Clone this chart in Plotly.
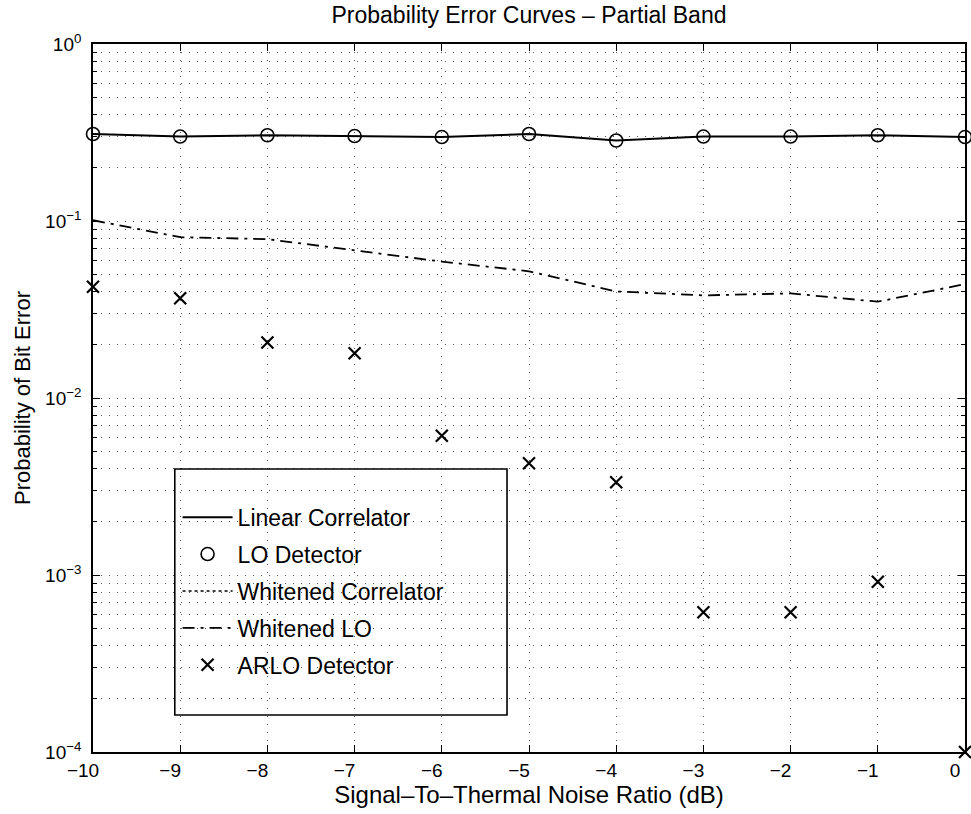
import plotly.graph_objects as go

# Signal-to-thermal noise ratio (dB)
snr_db = [-10, -9, -8, -7, -6, -5, -4, -3, -2, -1, 0]

# Probability of bit error for each detector
linear_correlator = [0.31, 0.30, 0.305, 0.302, 0.298, 0.31, 0.285, 0.30, 0.30, 0.305, 0.298]
lo_detector = [0.31, 0.30, 0.305, 0.302, 0.298, 0.31, 0.285, 0.30, 0.30, 0.305, 0.298]
whitened_lo = [0.101, 0.081, 0.079, 0.068, 0.059, 0.052, 0.040, 0.038, 0.039, 0.035, 0.044]
arlo_detector = [0.0425, 0.0366, 0.0206, 0.0179, 0.00612, 0.00428, 0.00334,
                 0.000616, 0.000616, 0.000917, 0.0001]

x_ticks = [-10, -9, -8, -7, -6, -5, -4, -3, -2, -1, 0]
x_tick_text = ["−10", "−9", "−8", "−7", "−6", "−5", "−4", "−3", "−2", "−1", "0"]
y_ticks = [1e-4, 1e-3, 1e-2, 1e-1, 1]
y_tick_text = ["10<sup>−4</sup>", "10<sup>−3</sup>", "10<sup>−2</sup>", "10<sup>−1</sup>", "10<sup>0</sup>"]
decades = [1e-4, 1e-3, 1e-2, 1e-1]
y_minor = [m * d for d in decades for m in range(2, 10)]

FONT = "Liberation Sans, Arial, Helvetica, sans-serif"
GRID = "#555555"
GRID_DASH = "1px,7px"

fig = go.Figure()

fig.add_trace(go.Scatter(
    x=snr_db, y=linear_correlator, mode="lines", name="Linear Correlator",
    line=dict(color="black", width=2), legendgroup="a"))
fig.add_trace(go.Scatter(
    x=snr_db, y=lo_detector, mode="markers", name="LO Detector",
    marker=dict(symbol="circle-open", size=13, color="black", line=dict(width=1.6)),
    legendgroup="b", cliponaxis=False))
fig.add_trace(go.Scatter(
    x=[None], y=[None], mode="lines", name="Whitened Correlator",
    line=dict(color="black", width=1.6, dash="dot"), legendgroup="c"))
fig.add_trace(go.Scatter(
    x=snr_db, y=whitened_lo, mode="lines", name="Whitened LO",
    line=dict(color="black", width=1.8, dash="12px,6px,3px,6px"), legendgroup="d"))
fig.add_trace(go.Scatter(
    x=snr_db, y=arlo_detector, mode="markers", name="ARLO Detector",
    marker=dict(symbol="x-thin-open", size=12, color="black", line=dict(width=2.2, color="black")),
    legendgroup="e", cliponaxis=False))

# legend frame
fig.add_shape(type="rect", xref="paper", yref="paper",
              x0=0.0938, x1=0.4748, y0=0.0523, y1=0.3997,
              line=dict(color="black", width=1.6), fillcolor="rgba(0,0,0,0)")

fig.update_layout(
    width=971, height=814,
    margin=dict(l=93, r=4, t=44, b=62),
    paper_bgcolor="white", plot_bgcolor="white",
    font=dict(family=FONT, size=22, color="black"),
    showlegend=True,
    title=dict(text="Probability Error Curves – Partial Band", x=0.5, xref="paper",
               y=0.991, yref="container", yanchor="top",
               font=dict(family=FONT, size=23, color="black")),
    legend=dict(x=0.097, y=0.362, xanchor="left", yanchor="top",
                bgcolor="rgba(0,0,0,0)", borderwidth=0,
                font=dict(family=FONT, size=23, color="black"),
                tracegroupgap=4, itemwidth=50,
                traceorder="grouped"),
)

fig.update_xaxes(
    range=[-10, 0], tickmode="array", tickvals=x_ticks, ticktext=x_tick_text,
    showline=True, linecolor="black", linewidth=1.6, mirror="ticks",
    ticks="inside", ticklen=7, tickcolor="black", tickwidth=1.3,
    showgrid=True, gridcolor=GRID, griddash=GRID_DASH, gridwidth=1,
    zeroline=False, tickfont=dict(size=19), ticklabelshift=-10,
    title=dict(text="Signal–To–Thermal Noise Ratio (dB)", standoff=3, font=dict(size=24)),
)

fig.update_yaxes(
    type="log", range=[-4, 0], tickmode="array", tickvals=y_ticks, ticktext=y_tick_text,
    showline=True, linecolor="black", linewidth=1.6, mirror="ticks",
    ticks="inside", ticklen=7, tickcolor="black", tickwidth=1.3,
    showgrid=True, gridcolor=GRID, griddash=GRID_DASH, gridwidth=1,
    minor=dict(tickmode="array", tickvals=y_minor, ticks="inside", ticklen=4,
               tickcolor="black", showgrid=True,
               gridcolor=GRID, griddash=GRID_DASH, gridwidth=1),
    zeroline=False, tickfont=dict(size=19), ticklabelstandoff=6,
    title=dict(text="Probability of Bit Error", standoff=8, font=dict(size=22)),
)

fig.write_html("out.html")
